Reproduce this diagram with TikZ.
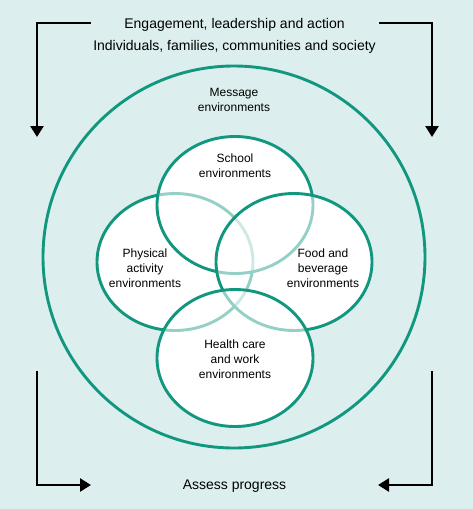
\documentclass[tikz,border=0pt]{standalone}
\usepackage{fontspec}
\setmainfont{Liberation Sans}
\usetikzlibrary{arrows.meta}

\definecolor{venngreen}{HTML}{12977F}
\definecolor{paleback}{HTML}{DCEFEE}

\tikzset{
  ring/.style={draw=venngreen, line width=2.9pt},
  env/.style={ring, fill=white, fill opacity=0.55},
  flow/.style={draw=black, line width=2.5pt, -{Triangle[length=11pt,width=13pt]}},
  head/.style={font=\fontsize{14}{17}\selectfont, inner sep=0pt, anchor=base},
  lbl/.style={align=center, font=\fontsize{12}{15}\selectfont, inner sep=0pt}
}

\begin{document}
\begin{tikzpicture}[x=1pt, y=-1pt]
  \fill[paleback] (0,0) rectangle (473,509);
  \useasboundingbox (0,0) rectangle (473,509);

  % outer ring
  \node[ring, circle, minimum size=382pt, inner sep=0pt] (outer) at (234,257) {};

  % centres of the four settings
  \coordinate (school)   at (235,205);
  \coordinate (physical) at (175,262);
  \coordinate (food)     at (294,262);
  \coordinate (health)   at (235,358);

  \foreach \c in {school,physical,food,health}
    \fill[white] (\c) ellipse [x radius=78pt, y radius=68.5pt];
  \foreach \c in {physical,school,food,health}
    \draw[env] (\c) ellipse [x radius=78pt, y radius=68.5pt];

  % texts
  \node[head] (engage) at (234.5,28.3) {Engagement, leadership and action};
  \node[head] (people) at (234.5,50.7) {Individuals, families, communities and society};
  \node[lbl] (msg) at (234,100) {Message\\environments};
  \node[lbl] (schooltxt) at (235,165.5) {School\\environments};
  \node[lbl] (phystxt) at (145,268) {Physical\\activity\\environments};
  \node[lbl] (foodtxt) at (323,268) {Food and\\beverage\\environments};
  \node[lbl] (healthtxt) at (235,359) {Health care\\and work\\environments};
  \node[head] (assess) at (234.5,489) {Assess progress};

  % arrow ends
  \coordinate (tlstart) at (91,23);
  \coordinate (tlend)   at (37,137);
  \coordinate (trstart) at (379,23);
  \coordinate (trend)   at (432,137);
  \coordinate (blstart) at (37,371);
  \coordinate (blend)   at (91,485);
  \coordinate (brstart) at (432,371);
  \coordinate (brend)   at (378,485);

  \draw[flow] (tlstart) -| (tlend);
  \draw[flow] (trstart) -| (trend);
  \draw[flow] (blstart) |- (blend);
  \draw[flow] (brstart) |- (brend);
\end{tikzpicture}
\end{document}
